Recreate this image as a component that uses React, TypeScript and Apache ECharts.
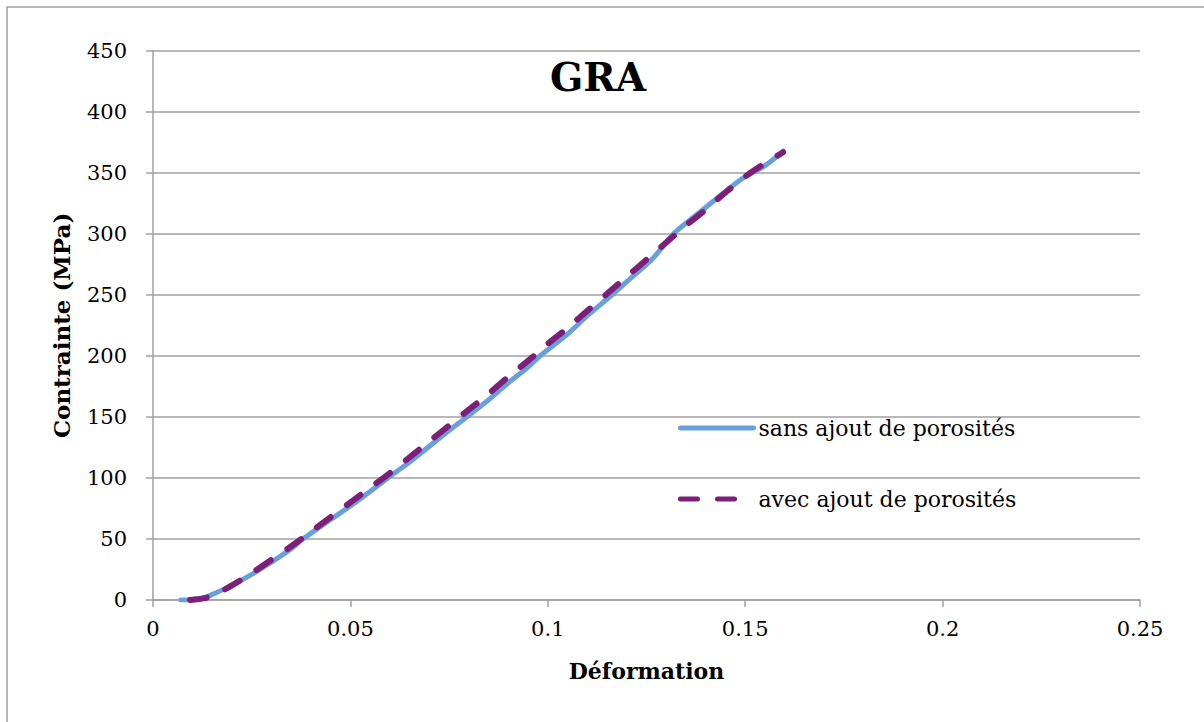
import React, { useEffect, useRef } from "react";
import * as echarts from "echarts";

const titleText = "GRA";
const xAxisName = "Déformation";
const yAxisName = "Contrainte (MPa)";
const seriesNames = ["sans ajout de porosités", "avec ajout de porosités"];

const sansX = [0.007, 0.01, 0.013, 0.016, 0.02, 0.025, 0.03, 0.035, 0.038, 0.045, 0.05, 0.055, 0.0595, 0.062, 0.065, 0.07, 0.075, 0.0795, 0.085, 0.09, 0.095, 0.098, 0.105, 0.11, 0.1162, 0.12, 0.1266, 0.1318, 0.137, 0.142, 0.147, 0.15, 0.155, 0.1596];
const sansY = [0, 0.5, 2, 6, 12, 21, 31, 42, 50, 66, 77, 89, 100, 106, 113, 126, 139, 150, 164, 178, 191, 200, 218, 233, 250, 261, 280, 300, 314, 327, 340, 347, 356, 368];

const avecX = [0.0094, 0.013, 0.016, 0.02, 0.025, 0.03, 0.035, 0.04, 0.045, 0.05, 0.055, 0.06, 0.065, 0.07, 0.075, 0.08, 0.085, 0.09, 0.095, 0.1, 0.105, 0.11, 0.115, 0.12, 0.125, 0.13, 0.135, 0.14, 0.145, 0.15, 0.155, 0.1596];
const avecY = [0, 1.5, 5, 12, 22, 33, 44, 56, 68, 80, 92, 104, 117, 130, 143, 156, 169, 183, 196, 210, 223, 237, 251, 265, 279, 293, 307, 320, 334, 347, 358, 367];

const FONT = "DejaVu Serif";

export default function App() {
  const ref = useRef<HTMLDivElement>(null);
  useEffect(() => {
    if (!ref.current) return;
    const chart = echarts.init(ref.current, null, { renderer: "svg" });
    const sans = sansX.map((x, i) => [x, sansY[i]]);
    const avec = avecX.map((x, i) => [x, avecY[i]]);
    chart.setOption({
      animation: false,
      backgroundColor: "#ffffff",
      textStyle: { fontFamily: FONT },
      grid: { left: 153, right: 64, top: 51, bottom: 122, containLabel: false },
      graphic: [
        {
          type: "rect",
          shape: { x: 7, y: 7, width: 1300, height: 800 },
          style: { fill: "none", stroke: "#a0a0a0", lineWidth: 1.5 },
          silent: true,
        },
        {
          type: "text",
          x: 598,
          y: 77,
          style: {
            text: titleText,
            font: "bold 39px 'DejaVu Serif'",
            fill: "#000",
            textAlign: "center",
            textVerticalAlign: "middle",
          },
        },
      ],
      legend: {
        orient: "vertical",
        left: 673,
        top: 412,
        itemWidth: 73,
        itemHeight: 6,
        itemGap: 49,
        itemStyle: { opacity: 0 },
        lineStyle: { width: 5 },
        textStyle: { fontFamily: FONT, fontSize: 22, color: "#000" },
        data: seriesNames,
      },
      xAxis: {
        type: "value",
        min: 0,
        max: 0.25,
        interval: 0.05,
        name: xAxisName,
        nameLocation: "middle",
        nameGap: 60,
        nameTextStyle: { fontFamily: FONT, fontWeight: "bold", fontSize: 22, color: "#000" },
        axisLine: { show: true, onZero: false, lineStyle: { color: "#a0a0a0", width: 1.5 } },
        axisTick: { show: true, length: 7, lineStyle: { color: "#a0a0a0", width: 1.5 } },
        axisLabel: { color: "#000", fontSize: 21, fontFamily: FONT, margin: 18 },
        splitLine: { show: false },
      },
      yAxis: {
        type: "value",
        min: 0,
        max: 450,
        interval: 50,
        name: yAxisName,
        nameLocation: "middle",
        nameGap: 80,
        nameRotate: 90,
        nameTextStyle: { fontFamily: FONT, fontWeight: "bold", fontSize: 23, color: "#000" },
        axisLine: { show: true, lineStyle: { color: "#a0a0a0", width: 1.5 } },
        axisTick: { show: true, length: 7, lineStyle: { color: "#a0a0a0", width: 1.5 } },
        axisLabel: { color: "#000", fontSize: 21, fontFamily: FONT, margin: 26 },
        splitLine: { show: true, lineStyle: { color: "#a0a0a0", width: 1.5 } },
      },
      series: [
        {
          name: seriesNames[0],
          type: "line",
          data: sans,
          showSymbol: false,
          symbol: "none",
          smooth: 0.3,
          lineStyle: { color: "#68a0dc", width: 5, cap: "round" },
          itemStyle: { color: "#68a0dc" },
          z: 2,
        },
        {
          name: seriesNames[1],
          type: "line",
          data: avec,
          showSymbol: false,
          symbol: "none",
          smooth: 0.3,
          lineStyle: { color: "#7d1f78", width: 6, type: [17, 20], cap: "round" },
          itemStyle: { color: "#7d1f78" },
          z: 3,
        },
      ],
    });
    return () => chart.dispose();
  }, []);
  return <div ref={ref} style={{ width: 1204, height: 722, position: "absolute", left: 0, top: 0 }} />;
}
